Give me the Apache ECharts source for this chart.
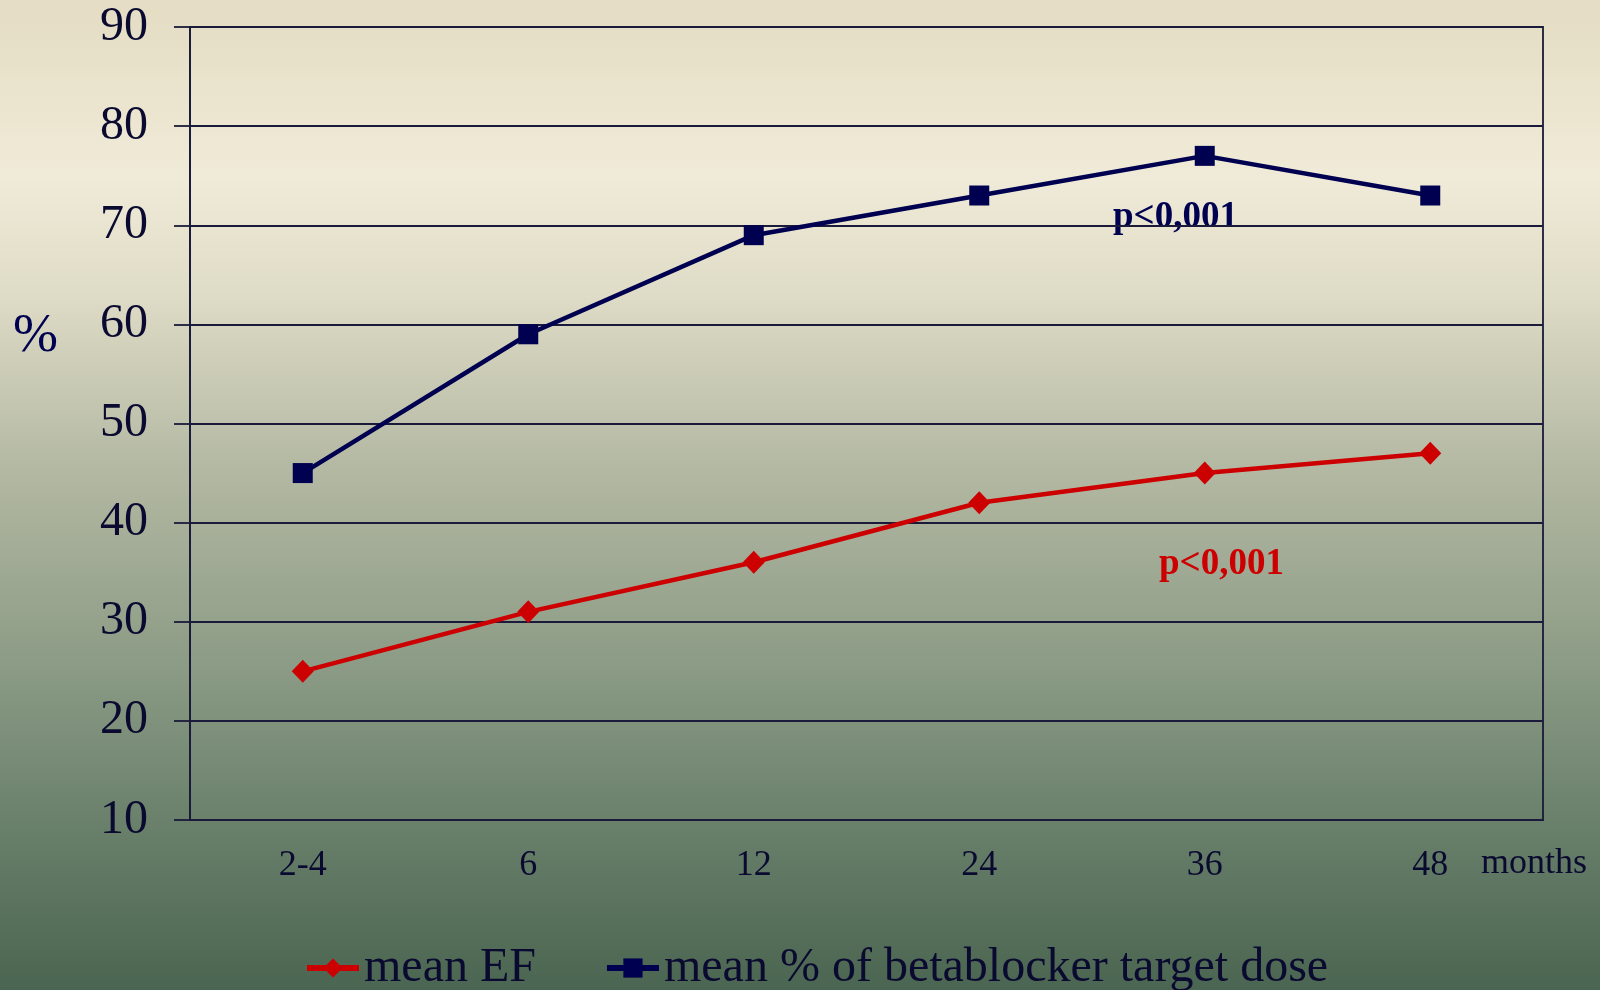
<!DOCTYPE html>
<html>
<head>
<meta charset="utf-8">
<script src="https://cdn.jsdelivr.net/npm/echarts@6/dist/echarts.min.js"></script>
<style>
html,body{margin:0;padding:0;width:1600px;height:990px;overflow:hidden;}
#c{width:1600px;height:990px;}
</style>
</head>
<body>
<div id="c"></div>
<script>
const categories = ['2-4', '6', '12', '24', '36', '48'];
const meanEF = [25, 31, 36, 42, 45, 47];
const meanBetablockerDose = [45, 59, 69, 73, 77, 73];
const yTicks = { min: 10, max: 90, interval: 10 };

const NAVY = '#000050';
const RED = '#cc0000';
const INK = '#0a0a30';
const FONT = '"Liberation Serif", "Times New Roman", serif';

const chart = echarts.init(document.getElementById('c'), null, { renderer: 'canvas' });
chart.setOption({
  backgroundColor: new echarts.graphic.LinearGradient(0, 0, 0, 1, [
    { offset: 0, color: '#e4dcc3' },
    { offset: 0.18, color: '#f0ebd8' },
    { offset: 0.30, color: '#dedbc6' },
    { offset: 0.47, color: '#b4b9a3' },
    { offset: 0.68, color: '#8a9a84' },
    { offset: 0.85, color: '#667d68' },
    { offset: 1, color: '#4a6551' }
  ]),
  animation: false,
  grid: {
    left: 190, right: 57, top: 27, bottom: 170,
    show: true, borderColor: '#1a1a3a', borderWidth: 1.8, backgroundColor: 'transparent'
  },
  legend: {
    left: 304, top: 944, padding: 0,
    itemWidth: 52, itemHeight: 24, itemGap: 68,
    lineStyle: { width: 6 },
    textStyle: { fontFamily: FONT, fontSize: 48, color: INK },
    data: ['mean EF', 'mean % of betablocker target dose']
  },
  xAxis: {
    type: 'category',
    data: categories,
    boundaryGap: true,
    axisLine: { show: true, lineStyle: { color: '#1a1a3a', width: 1.8 } },
    axisTick: { show: false },
    axisLabel: { fontFamily: FONT, fontSize: 36, color: INK, margin: 28 },
    splitLine: { show: false }
  },
  yAxis: {
    type: 'value',
    min: yTicks.min, max: yTicks.max, interval: yTicks.interval,
    axisLine: { show: true, lineStyle: { color: '#1a1a3a', width: 1.8 } },
    axisTick: { show: true, length: 16, lineStyle: { color: '#1a1a3a', width: 1.8 } },
    axisLabel: { fontFamily: FONT, fontSize: 48, color: INK, margin: 42 },
    splitLine: { show: true, lineStyle: { color: '#1a1a3a', width: 1.8 } }
  },
  series: [
    {
      name: 'mean EF',
      type: 'line',
      data: meanEF,
      color: RED,
      lineStyle: { color: RED, width: 4.5 },
      itemStyle: { color: RED },
      symbol: 'diamond',
      symbolSize: [22, 23],
      z: 3
    },
    {
      name: 'mean % of betablocker target dose',
      type: 'line',
      data: meanBetablockerDose,
      color: NAVY,
      lineStyle: { color: NAVY, width: 4.5 },
      itemStyle: { color: NAVY },
      symbol: 'rect',
      symbolSize: 20,
      z: 4
    }
  ],
  graphic: [
    {
      type: 'text', left: 13, top: 310,
      style: { text: '%', fontFamily: FONT, fontSize: 54, fill: NAVY }
    },
    {
      type: 'text', left: 1481, top: 846,
      style: { text: 'months', fontFamily: FONT, fontSize: 36, fill: INK }
    },
    {
      type: 'text', left: 1113, top: 199,
      style: { text: 'p<0,001', fontFamily: FONT, fontSize: 37, fontWeight: 'bold', fill: NAVY }
    },
    {
      type: 'text', left: 1159, top: 546,
      style: { text: 'p<0,001', fontFamily: FONT, fontSize: 37, fontWeight: 'bold', fill: RED }
    }
  ]
});
</script>
</body>
</html>
